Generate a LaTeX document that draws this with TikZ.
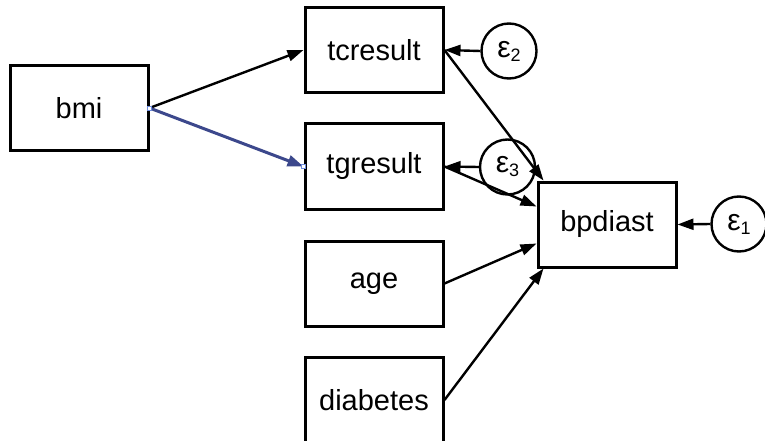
\documentclass[tikz,border=0pt]{standalone}
\usepackage{fontspec}
\setmainfont{Liberation Sans}
\usetikzlibrary{arrows.meta,calc}
\begin{document}
\begin{tikzpicture}[x=1pt,y=-1pt,
  var/.style={draw=black,line width=3pt,minimum width=138pt,minimum height=85pt,inner sep=0pt,
    font=\fontsize{29}{31}\selectfont},
  err/.style={circle,draw=black,line width=2.4pt,minimum size=55pt,inner sep=0pt,
    font=\fontsize{30}{32}\selectfont},
  path/.style={line width=2.4pt,-{Triangle[length=16pt,width=11pt]}},
  sel/.style={line width=3pt,draw={rgb,255:red,60;green,72;blue,140},
    -{Triangle[length=16pt,width=11pt]}},
  handle/.style={draw={rgb,255:red,110;green,140;blue,220},fill=white,line width=0.8pt,
    minimum size=4pt,inner sep=0pt}]
\useasboundingbox (0,0) rectangle (765,441);
% variables
\node[var] (bmi) at (79,108) {bmi};
\node[var] (tc) at (374,50) {tcresult};
\node[var] (tg) at (374,166.5) {tgresult};
\node[var] (age) at (374,283.5) {age};
\node[var] (dia) at (374,400) {diabetes};
\node[var] (bp) at (607,224.5) {bpdiast};
% errors
\node[err] (e2) at (509,51) {ε\raisebox{-4pt}{\fontsize{18}{18}\selectfont 2}};
\node[err] (e3) at (507.5,167) {ε\raisebox{-4pt}{\fontsize{18}{18}\selectfont 3}};
\node[err] (e1) at (739,224) {ε\raisebox{-4pt}{\fontsize{18}{18}\selectfont 1}};
% target points on bpdiast
\coordinate (bpA) at ($(bp.north west)+(7,0)$);
\coordinate (bpB) at ($(bp.west)+(0,-18)$);
\coordinate (bpC) at ($(bp.west)+(0,19)$);
\coordinate (bpD) at ($(bp.south west)+(7,0)$);
% paths
\draw[path] (bmi.east) -- (tc.west);
\draw[sel] (bmi.east) -- (tg.west);
\node[handle] (h1) at (bmi.east) {};
\node[handle] (h2) at (tg.west) {};
\draw[path] (e2.west) -- (tc.east);
\draw[path] (e3.west) -- (tg.east);
\draw[path] (e1.west) -- (bp.east);
\draw[path] (tc.east) -- (bpA);
\draw[path] (tg.east) -- (bpB);
\draw[path] (age.east) -- (bpC);
\draw[path] (dia.east) -- (bpD);
\end{tikzpicture}
\end{document}
